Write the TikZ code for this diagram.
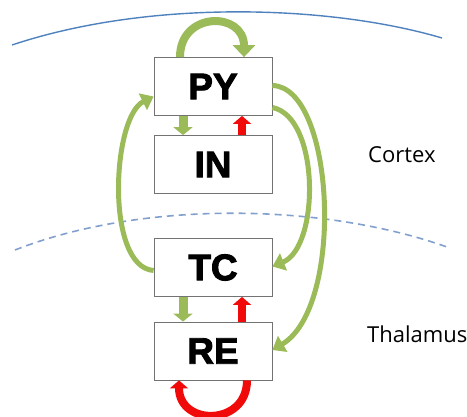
\documentclass[tikz,border=0pt]{standalone}
\usepackage{fontspec}
\newfontfamily\boxfont[FakeBold=2.5]{Liberation Sans Bold}
\newfontfamily\lblfont{Open Sans}
\usetikzlibrary{arrows.meta}
\definecolor{garrc}{RGB}{155,187,89}
\definecolor{rarrc}{RGB}{240,10,10}
\definecolor{arcc}{RGB}{79,129,189}
\definecolor{dashc}{RGB}{130,160,205}
\tikzset{
  % boxes
  box/.style={draw=black!55,line width=.8pt,fill=white,minimum width=118pt,
    minimum height=58pt,inner sep=0pt,font=\boxfont\fontsize{37}{37}\selectfont},
  % arrows
  garr/.style={draw=garrc,line width=5pt,-{Triangle[length=12pt,width=18pt]}},
  sgarr/.style={draw=garrc,line width=9pt,-{Triangle[length=8pt,width=19pt]}},
  rarr/.style={draw=rarrc,line width=8pt,-{Triangle[length=8pt,width=18pt]}},
  % labels
  lbl/.style={font=\lblfont\fontsize{22}{22}\selectfont,anchor=base west,inner sep=0pt}
}
\begin{document}
\begin{tikzpicture}[x=1pt,y=1pt]
  \useasboundingbox (0,0) rectangle (467,417);

  %--- region borders
  \draw[arcc,line width=1.4pt] (12,372) .. controls (150,418) and (330,412) .. (442,379);
  \draw[dashc,line width=1.6pt,dash pattern=on 7pt off 5pt]
    (15,167) .. controls (140,216) and (320,215) .. (447,170);

  %--- cells
  \node[box] (py) at (213,330.5) {PY};
  \node[box] (in) at (213,252.5) {IN};
  \node[box] (tc) at (213,149.5) {TC};
  \node[box] (re) at (213,66) {RE};

  %--- labels
  \node[lbl] (cortex) at (368,254) {Cortex};
  \node[lbl] (thal)   at (367,74) {Thalamus};

  %--- local links
  \draw[garr,line width=8pt,-{Triangle[length=12pt,width=22pt]}]
    ([xshift=-33pt]py.north) .. controls +(0,46) and +(0,46) .. ([xshift=31pt]py.north);
  \draw[sgarr] ([xshift=-30pt]py.south) -- ([xshift=-30pt]in.north);
  \draw[rarr]  ([xshift=29pt]in.north) -- ([xshift=29pt]py.south);
  \draw[sgarr] ([xshift=-30pt]tc.south) -- ([xshift=-30pt]re.north);
  \draw[rarr]  ([xshift=29pt]re.north) -- ([xshift=29pt]tc.south);
  \draw[rarr]  ([xshift=34pt]re.south) .. controls +(0,-46) and +(0,-46) .. ([xshift=-34pt]re.south);

  %--- long links
  \draw[garr] ([yshift=-3pt]tc.west) .. controls (105,150) and (112,300) .. ([yshift=-10pt]py.west);
  \draw[garr] ([yshift=-21pt]py.east) .. controls (320,300) and (320,170) .. ([yshift=1pt]tc.east);
  \draw[garr] ([yshift=1pt]py.east) .. controls (335,330) and (345,110) .. ([yshift=1pt]re.east);
\end{tikzpicture}
\end{document}
